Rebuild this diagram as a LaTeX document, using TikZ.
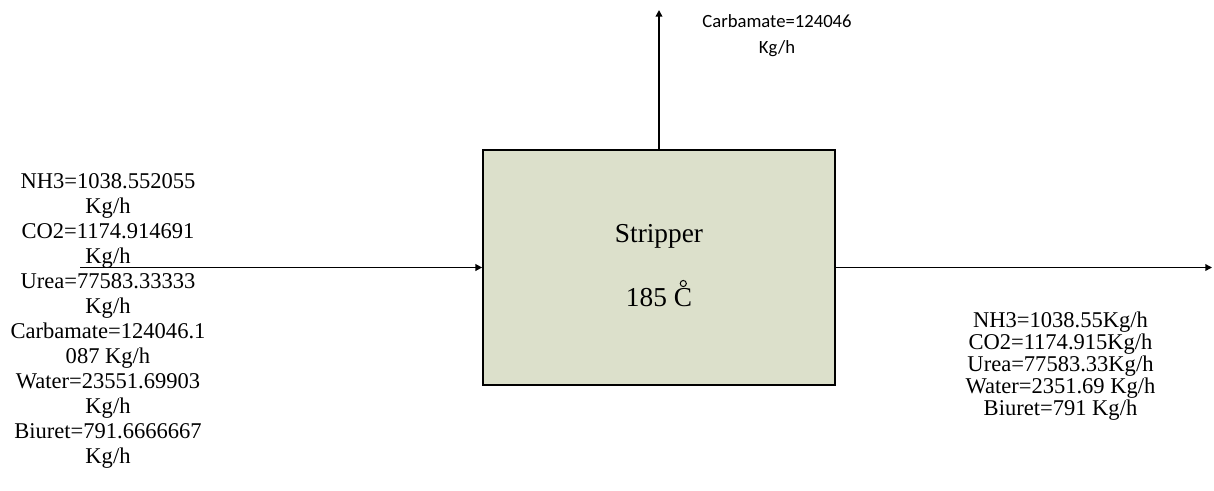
\documentclass[tikz,border=0pt]{standalone}
\usepackage{fontspec}
\setmainfont{Liberation Serif}
\newfontfamily\calib{Carlito}
\usetikzlibrary{arrows.meta}
\definecolor{boxfill}{RGB}{220,224,203}
\tikzset{
  flow/.style={line width=1.1pt, -{Triangle[length=5pt,width=5pt]}},
  unit/.style={draw=black, line width=1.3pt, fill=boxfill, minimum width=352*0.75pt, minimum height=235*0.75pt, inner sep=0pt},
  lbl/.style={align=center, inner sep=0pt},
  ring/.style={draw=black, line width=0.75pt}
}
\begin{document}
\begin{tikzpicture}[x=0.75pt,y=-0.75pt]
\useasboundingbox (0,0) rectangle (1214,490);
\node[unit] (strip) at (659,267.5) {};
\node[lbl, font=\fontsize{20.5}{24}\selectfont] (name) at (659,236) {Stripper};
\node[lbl, font=\fontsize{20.5}{24}\selectfont] (temp) at (659,298) {185 C};
\draw[ring] ([shift={(-9,-5)}]temp.north east) circle (2.3pt);
\coordinate (inS) at (80,267.5);
\coordinate (outE) at (1212,267.5);
\coordinate (topE) at (659,10);
\draw[flow] (inS) -- (strip.west);
\draw[flow] (strip.east) -- (outE);
\draw[flow] (strip.north) -- (topE);
\node[lbl, font=\fontsize{16.9}{18.75}\selectfont] (feed) at (108,320.5) {NH3=1038.552055\\Kg/h\\CO2=1174.914691\\Kg/h\\Urea=77583.33333\\Kg/h\\Carbamate=124046.1\\087 Kg/h\\Water=23551.69903\\Kg/h\\Biuret=791.6666667\\Kg/h};
\node[lbl, font=\fontsize{16.9}{16.5}\selectfont] (prod) at (1060.5,366) {NH3=1038.55Kg/h\\CO2=1174.915Kg/h\\Urea=77583.33Kg/h\\Water=2351.69 Kg/h\\Biuret=791 Kg/h};
\node[lbl, font=\calib\fontsize{14}{19.5}\selectfont] (vap) at (777,36) {Carbamate=124046\\Kg/h};
\end{tikzpicture}
\end{document}
